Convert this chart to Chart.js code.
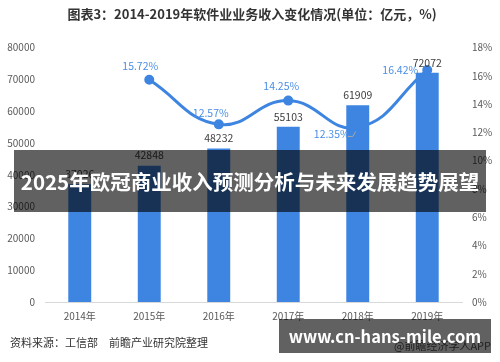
<!DOCTYPE html>
<html>
<head>
<meta charset="utf-8">
<script src="https://cdn.jsdelivr.net/npm/chart.js@4"></script>
<style>
  body { margin: 0; background: #fff; }
  #wrap { position: relative; width: 500px; height: 362px; overflow: hidden; }
  .banner { position: absolute; background: rgba(0,0,0,0.62); color: #fff; font-family: "Noto Sans CJK SC", sans-serif; font-weight: bold; white-space: nowrap; }
  #b1 { left: 14px; top: 150px; width: 472px; height: 62px; font-size: 20.5px; line-height: 62px; text-align: center; }
  #b2 { left: 279px; top: 319px; width: 212px; height: 34px; font-size: 16.5px; line-height: 34px; text-align: center; }
  #src { position: absolute; left: 10px; top: 334px; font: 11px "Noto Sans CJK SC", sans-serif; color: #333; }
  #app { position: absolute; left: 394px; top: 337px; font: 11px "Noto Sans CJK SC", sans-serif; color: #555; }
</style>
</head>
<body>
<div id="wrap">
  <canvas id="c" width="500" height="362"></canvas>
  <div id="src">资料来源：工信部　前瞻产业研究院整理</div>
  <div id="app">@前瞻经济学人APP</div>
  <div class="banner" id="b1">2025年欧冠商业收入预测分析与未来发展趋势展望</div>
  <div class="banner" id="b2">www.cn-hans-mile.com</div>
</div>
<script>
const years = ["2014年", "2015年", "2016年", "2017年", "2018年", "2019年"];
const revenue = [37026, 42848, 48232, 55103, 61909, 72072];
const growth = [null, 15.72, 12.57, 14.25, 12.35, 16.42];

const blue = "#3d85e0";
const font = "'Noto Sans CJK SC', sans-serif";

// value labels on bars and line points
const labelPlugin = {
  id: "labels",
  afterDatasetsDraw(chart) {
    const ctx = chart.ctx;
    ctx.save();
    ctx.font = "10.5px " + font;
    ctx.textAlign = "center";
    ctx.textBaseline = "bottom";
    ctx.fillStyle = "#404040";
    chart.getDatasetMeta(1).data.forEach((bar, i) => {
      ctx.fillText(revenue[i], bar.x, bar.y - 5);
    });
    ctx.fillStyle = "#4a8ee6";
    const offs = [null, [-9, -9], [-8, -6], [-7, -9], [-26, 12], [-27, 5]];
    chart.getDatasetMeta(0).data.forEach((pt, i) => {
      if (growth[i] == null) return;
      const [dx, dy] = offs[i];
      ctx.fillText(growth[i].toFixed(2) + "%", pt.x + dx, pt.y + dy);
    });
    // small leader line for 2018 label
    const p = chart.getDatasetMeta(0).data[4];
    ctx.strokeStyle = "#a6a6a6";
    ctx.lineWidth = 1;
    ctx.beginPath();
    ctx.moveTo(p.x - 10, p.y + 9);
    ctx.lineTo(p.x - 5, p.y + 9);
    ctx.lineTo(p.x - 2, p.y + 4);
    ctx.stroke();
    ctx.restore();
  }
};

new Chart(document.getElementById("c"), {
  data: {
    labels: years,
    datasets: [
      {
        type: "line",
        data: growth,
        yAxisID: "y1",
        borderColor: blue,
        backgroundColor: blue,
        borderWidth: 3,
        tension: 0.45,
        pointRadius: 3.5,
        pointBackgroundColor: blue,
        order: 0
      },
      {
        type: "bar",
        data: revenue,
        yAxisID: "y",
        backgroundColor: blue,
        barPercentage: 0.33,
        categoryPercentage: 1,
        order: 1
      }
    ]
  },
  options: {
    responsive: false,
    animation: false,
    layout: { padding: { left: 4, right: 0, bottom: 32 } },
    plugins: {
      legend: { display: false },
      tooltip: { enabled: false },
      title: {
        display: true,
        text: "图表3：2014-2019年软件业业务收入变化情况(单位：亿元，%)",
        color: "#333",
        font: { family: font, size: 13, weight: "bold" },
        padding: { top: 6, bottom: 26 }
      }
    },
    scales: {
      x: {
        grid: { display: false, drawTicks: false },
        border: { color: "#d9d9d9" },
        ticks: { color: "#595959", font: { family: font, size: 10 }, padding: 8 }
      },
      y: {
        position: "left",
        min: 0,
        max: 80000,
        grid: { display: false, drawTicks: false },
        border: { display: false },
        afterFit: s => { s.width = 41; },
        ticks: { stepSize: 10000, color: "#595959", font: { family: font, size: 10 }, padding: 10,
          callback: v => String(v) }
      },
      y1: {
        position: "right",
        min: 0,
        max: 18,
        grid: { display: false, drawTicks: false },
        border: { display: false },
        afterFit: s => { s.width = 38; },
        ticks: { stepSize: 2, color: "#595959", font: { family: font, size: 10 }, padding: 10,
          callback: v => v + "%" }
      }
    }
  },
  plugins: [labelPlugin]
});
</script>
</body>
</html>
